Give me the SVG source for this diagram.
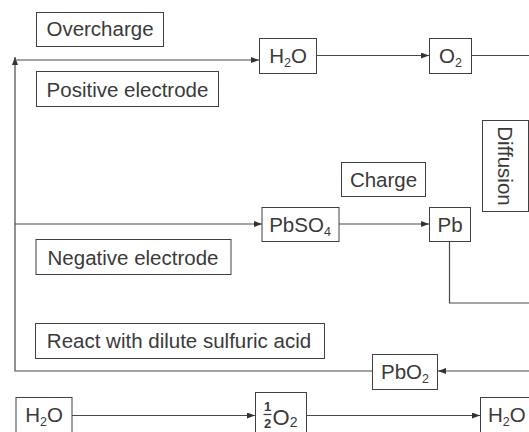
<svg xmlns="http://www.w3.org/2000/svg" width="529" height="432" viewBox="0 0 529 432">
<defs>
<marker id="ah" markerUnits="userSpaceOnUse" markerWidth="8" markerHeight="6" refX="8" refY="3" orient="auto">
<path d="M0,0 L8,3 L0,6 z" fill="#333"/>
</marker>
<style>
.box{fill:#fff;stroke:#404040;stroke-width:1}
.t{font-family:"Liberation Sans",Arial,sans-serif;font-size:20.5px;fill:#3a3a3a}
.m{text-anchor:middle}
.c{fill:none;stroke:#4a4a4a;stroke-width:1.2}
.sub{font-size:12.5px}
.fr{font-family:"Liberation Sans",Arial,sans-serif;font-size:13px;font-weight:bold;fill:#3a3a3a;text-anchor:middle}
</style>
</defs>
<rect width="529" height="432" fill="#fff"/>
<g id="connectors">
<polyline class="c" points="372,371 15,371 15,57" marker-end="url(#ah)"/>
<line class="c" x1="15" y1="60" x2="259" y2="60" marker-end="url(#ah)"/>
<line class="c" x1="15" y1="224" x2="262" y2="224" marker-end="url(#ah)"/>
<line class="c" x1="317" y1="55.5" x2="429" y2="55.5" marker-end="url(#ah)"/>
<line class="c" x1="471" y1="55.5" x2="529" y2="55.5"/>
<line class="c" x1="339" y1="224" x2="429" y2="224" marker-end="url(#ah)"/>
<polyline class="c" points="449.5,241 449.5,303 529,303"/>
<line class="c" x1="529" y1="371" x2="438" y2="371" marker-end="url(#ah)"/>
<line class="c" x1="72" y1="415.5" x2="255" y2="415.5" marker-end="url(#ah)"/>
<line class="c" x1="307" y1="415.5" x2="480" y2="415.5" marker-end="url(#ah)"/>
</g>
<g id="overcharge">
<rect class="box" x="36.5" y="12.5" width="127" height="34"/>
<text class="t m" x="100" y="36">Overcharge</text>
</g>
<g id="positive">
<rect class="box" x="36.5" y="71.5" width="182" height="35"/>
<text class="t m" x="127.5" y="96.5">Positive electrode</text>
</g>
<g id="h2o-top">
<rect class="box" x="259.5" y="38.5" width="57" height="35"/>
<text class="t m" x="288" y="63">H<tspan class="sub" dy="4">2</tspan><tspan dy="-4">O</tspan></text>
</g>
<g id="o2-top">
<rect class="box" x="429.5" y="38.5" width="42" height="35"/>
<text class="t m" x="450.5" y="63">O<tspan class="sub" dy="4">2</tspan></text>
</g>
<g id="diffusion">
<rect class="box" x="482.5" y="120.5" width="46" height="91"/>
<text class="t m" transform="translate(497.5,166) rotate(90)" x="0" y="0">Diffusion</text>
</g>
<g id="charge">
<rect class="box" x="341.5" y="162.5" width="84" height="34"/>
<text class="t m" x="383.5" y="186.5">Charge</text>
</g>
<g id="pbso4">
<rect class="box" x="262" y="207.5" width="77" height="34"/>
<text class="t m" x="300" y="231.5">PbSO<tspan class="sub" dy="4">4</tspan></text>
</g>
<g id="pb">
<rect class="box" x="429.5" y="207.5" width="41" height="34"/>
<text class="t m" x="450" y="231.5">Pb</text>
</g>
<g id="negative">
<rect class="box" x="36" y="239.5" width="195" height="35"/>
<text class="t m" x="133" y="264.5">Negative electrode</text>
</g>
<g id="react">
<rect class="box" x="35.5" y="323.5" width="289" height="35"/>
<text class="t m" x="179" y="348">React with dilute sulfuric acid</text>
</g>
<g id="pbo2">
<rect class="box" x="372.5" y="354.5" width="65" height="35"/>
<text class="t m" x="405" y="379">PbO<tspan class="sub" dy="4">2</tspan></text>
</g>
<g id="h2o-left">
<rect class="box" x="16" y="397.5" width="56" height="36"/>
<text class="t m" x="44" y="422">H<tspan class="sub" dy="4">2</tspan><tspan dy="-4">O</tspan></text>
</g>
<g id="half-o2">
<rect class="box" x="255.5" y="392.5" width="51" height="46"/>
<text class="fr" x="267.5" y="410.5">1</text>
<line x1="263.5" y1="414.5" x2="271.5" y2="414.5" stroke="#3a3a3a" stroke-width="1.2"/>
<text class="fr" x="267.5" y="428">2</text>
<text class="t" x="272.5" y="425" style="font-size:22px">O<tspan class="sub" style="font-size:14px" dy="2">2</tspan></text>
</g>
<g id="h2o-right">
<rect class="box" x="480.5" y="397.5" width="60" height="36"/>
<text class="t" x="488" y="422">H<tspan class="sub" dy="4">2</tspan><tspan dy="-4">O</tspan></text>
</g>
</svg>
